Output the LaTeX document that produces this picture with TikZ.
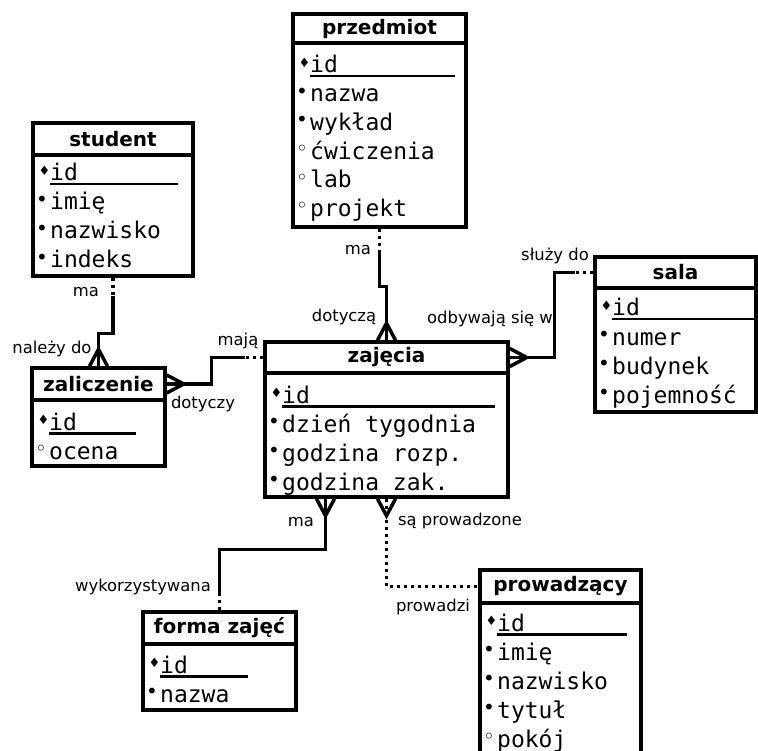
\documentclass[tikz,border=0pt]{standalone}
\usepackage{fontspec}
\setmainfont{DejaVu Sans}
\setmonofont{DejaVu Sans Mono}
\usepackage{tikz}
\tikzstyle{Title}=[draw,line width=3.5pt,inner sep=0pt,
font=\fontsize{20}{24}\selectfont\bfseries]
\tikzstyle{Attrs}=[draw,line width=3.5pt,inner sep=0pt]
\tikzstyle{Row}=[anchor=base west,inner sep=0pt,
font=\fontsize{23}{28}\selectfont\ttfamily]
\tikzstyle{Label}=[inner sep=0pt,font=\fontsize{16.4}{20}\selectfont]
\tikzstyle{Edge}=[line width=3.5pt]
\tikzstyle{EdgeOpt}=[line width=3.5pt,dash pattern=on 3.5pt off 3.5pt]
\tikzset{Crow/.pic={\draw[Edge](-9,0)--(0,-17)--(9,0);}}
\newcommand{\Key}{\makebox[14pt][l]{\hspace*{2.5pt}%
    \raisebox{5.5pt}{\fontsize{13}{13}\selectfont\rmfamily ♦}}}
\newcommand{\Req}{\makebox[14pt][l]{\hspace*{0pt}%
    \raisebox{3.5pt}{\fontsize{20}{20}\selectfont\rmfamily •}}}
\newcommand{\Opt}{\makebox[14pt][l]{\hspace*{0pt}%
    \raisebox{3.5pt}{\fontsize{20}{20}\selectfont\rmfamily ◦}}}
\newcommand{\Id}[1]{\rlap{\rule[-4.5pt]{#1}{2.2pt}}id}

\begin{document}
\begin{tikzpicture}[x=1pt,y=-1pt]
    \useasboundingbox(0,0)rectangle(758,751);
        \node[Title,minimum width=173,minimum height=29](przedmiot)
            at(379.5,28.5){przedmiot};
        \node[Attrs,minimum width=173,minimum height=184](przedmiotA)
            at(379.5,135){};
        \node[Title,minimum width=160,minimum height=32](student)
            at(113,139){student};
        \node[Attrs,minimum width=160,minimum height=121](studentA)
            at(113,215.5){};
        \node[Title,minimum width=133,minimum height=32](zaliczenie)
            at(98.5,384){zaliczenie};
        \node[Attrs,minimum width=133,minimum height=66](zaliczenieA)
            at(98.5,433){};
        \node[Title,minimum width=243,minimum height=31](zajecia)
            at(386.5,357.5){zajęcia};
        \node[Attrs,minimum width=243,minimum height=124](zajeciaA)
            at(386.5,435){};
        \node[Title,minimum width=161,minimum height=31](sala)
            at(675.5,272.5){sala};
        \node[Attrs,minimum width=161,minimum height=124](salaA)
            at(675.5,350){};
        \node[Title,minimum width=153,minimum height=32](forma)
            at(219.5,628){forma zajęć};
        \node[Attrs,minimum width=153,minimum height=66](formaA)
            at(219.5,677){};
        \node[Title,minimum width=161,minimum height=33](prowadzacy)
            at(560.5,586.5){prowadzący};
        \node[Attrs,minimum width=161,minimum height=157](prowadzacyA)
            at(560.5,681.5){};
        \node[Row](przedmiot1)at(296,73){\Key\Id{145pt}};
        \node[Row](przedmiot2)at(296,101.7){\Req nazwa};
        \node[Row](przedmiot3)at(296,130.4){\Req wykład};
        \node[Row](przedmiot4)at(296,159.1){\Opt ćwiczenia};
        \node[Row](przedmiot5)at(296,187.8){\Opt lab};
        \node[Row](przedmiot6)at(296,216.5){\Opt projekt};
        \node[Row](student1)at(36,181){\Key\Id{128pt}};
        \node[Row](student2)at(36,210){\Req imię};
        \node[Row](student3)at(36,239){\Req nazwisko};
        \node[Row](student4)at(36,268){\Req indeks};
        \node[Row](zaliczenie1)at(35,430){\Key\Id{87pt}};
        \node[Row](zaliczenie2)at(35,459){\Opt ocena};
        \node[Row](zajecia1)at(268,403){\Key\Id{213pt}};
        \node[Row](zajecia2)at(268,432){\Req dzień tygodnia};
        \node[Row](zajecia3)at(268,461){\Req godzina rozp.};
        \node[Row](zajecia4)at(268,490){\Req godzina zak.};
        \node[Row](sala1)at(598,316){\Key\Id{142pt}};
        \node[Row](sala2)at(598,345){\Req numer};
        \node[Row](sala3)at(598,374){\Req budynek};
        \node[Row](sala4)at(598,403){\Req pojemność};
        \node[Row](forma1)at(146,673){\Key\Id{88pt}};
        \node[Row](forma2)at(146,702){\Req nazwa};
        \node[Row](prowadzacy1)at(483,631){\Key\Id{130pt}};
        \node[Row](prowadzacy2)at(483,660){\Req imię};
        \node[Row](prowadzacy3)at(483,689){\Req nazwisko};
        \node[Row](prowadzacy4)at(483,718){\Req tytuł};
        \node[Row](prowadzacy5)at(483,747){\Opt pokój};
        \node[Label](maP)at(358,250){ma};
        \node[Label](dotycza)at(344,317){dotyczą};
        \node[Label](odbywaja)at(490,319){odbywają się w};
        \node[Label](sluzy)at(555,256){służy do};
        \node[Label](maS)at(86,292){ma};
        \node[Label](nalezy)at(52,349){należy do};
        \node[Label](maja)at(238,341){mają};
        \node[Label](dotyczy)at(203,404){dotyczy};
        \node[Label](maZ)at(301,522){ma};
        \node[Label](wykorzystywana)at(143,587){wykorzystywana};
        \node[Label](saProw)at(460,521){są prowadzone};
        \node[Label](prowadzi)at(433,607){prowadzi};
        \draw[EdgeOpt](przedmiotA.south)--++(0,21)coordinate(m1);
        \draw[Edge](m1)--++(0,37)-|(zajecia.north);
        \pic at(zajecia.north){Crow};
        \draw[EdgeOpt](studentA.south)--++(0,18)coordinate(m2);
        \draw[Edge](m2)--++(0,38)-|(zaliczenie.north);
        \pic at(zaliczenie.north){Crow};
        \draw[EdgeOpt](zajecia.west)--++(-18,0)coordinate(m3);
        \draw[Edge](m3)--++(-34,0)|-(zaliczenie.east);
        \pic[rotate=-90]at(zaliczenie.east){Crow};
        \draw[EdgeOpt](sala.west)--++(-18,0)coordinate(m4);
        \draw[Edge](m4)--++(-21,0)|-(zajecia.east);
        \pic[rotate=-90]at(zajecia.east){Crow};
        \draw[EdgeOpt](forma.north)--++(0,-17)coordinate(m5);
        \draw[Edge](m5)--++(0,-44)-|([xshift=-61pt]zajeciaA.south);
        \pic[rotate=180]at([xshift=-61pt]zajeciaA.south){Crow};
        \draw[EdgeOpt](zajeciaA.south)|-(prowadzacy.west);
        \pic[rotate=180]at(zajeciaA.south){Crow};
    \end{tikzpicture}
\end{document}
